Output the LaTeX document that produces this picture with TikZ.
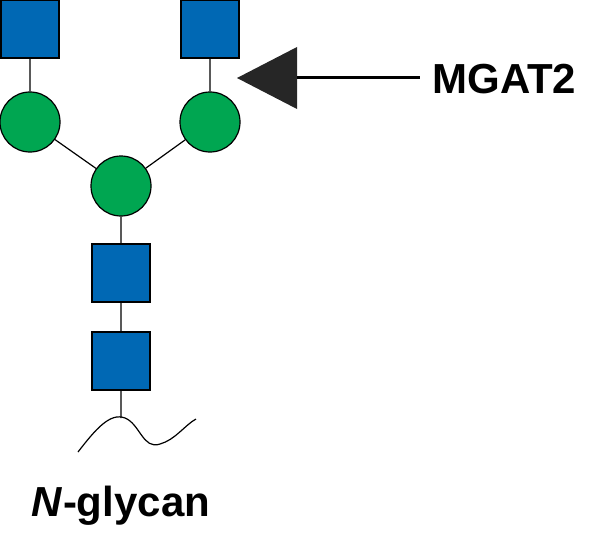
\documentclass[tikz,border=0pt]{standalone}
\usepackage{fontspec}
\setmainfont{Liberation Sans}
\definecolor{gblue}{HTML}{0068B4}
\definecolor{ggreen}{HTML}{00A651}
\begin{document}
\begin{tikzpicture}[x=0.5pt,y=-0.5pt,
  sq/.style={draw=black,fill=gblue,line width=0.6pt,minimum size=29pt,inner sep=0pt},
  ci/.style={circle,draw=black,fill=ggreen,line width=0.6pt,minimum size=30pt,inner sep=0pt},
  ln/.style={line width=0.6pt}]
\useasboundingbox (0,0) rectangle (604,540);
\node[sq] (s1) at (30,29) {};
\node[sq] (s2) at (210,29) {};
\node[ci] (c1) at (30,122) {};
\node[ci] (c2) at (210,122) {};
\node[ci] (c3) at (121,186) {};
\node[sq] (s3) at (121,273) {};
\node[sq] (s4) at (121,361) {};
\coordinate (b) at (121,418);
\draw[ln] (s1)--(c1) (s2)--(c2) (c1)--(c3) (c2)--(c3) (c3)--(s3) (s3)--(s4) (s4)--(b);
\draw[ln] (78,452) .. controls (95,430) and (110,412) .. (125,418) .. controls (140,424) and (143,450) .. (160,444) .. controls (175,440) and (185,425) .. (196,419);
\coordinate (tip) at (237,78);
\coordinate (tail) at (420,78);
\fill[black!85] (tip) -- (297,47) -- (297,109) -- cycle;
\draw[line width=1.5pt] (297,78) -- (tail);
\node[font=\bfseries\fontsize{21}{25}\selectfont,anchor=west,inner sep=0pt] (m) at (432,79) {MGAT2};
\node[font=\bfseries\fontsize{21}{25}\selectfont,inner sep=0pt] (n) at (121,506) {\textit{N}-glycan};
\end{tikzpicture}
\end{document}
